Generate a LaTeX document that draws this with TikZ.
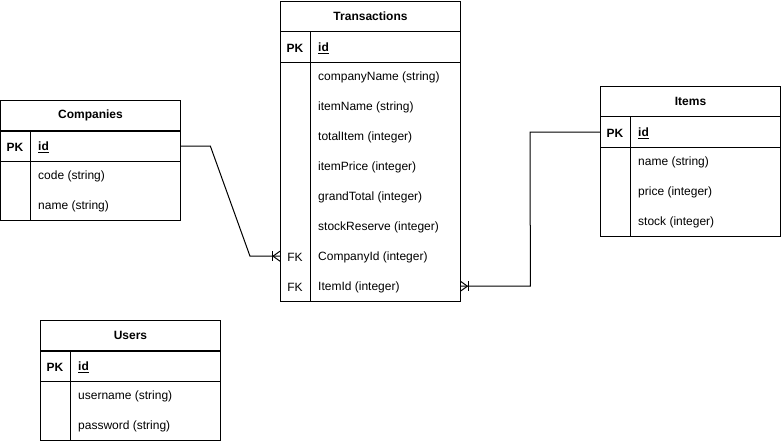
\documentclass[tikz,border=0pt]{standalone}
\usepackage{fontspec}
\setmainfont{Liberation Sans}
\usepackage{tikz}
\usetikzlibrary{positioning}

\newcommand{\erfont}{\fontsize{12}{14}\selectfont}

\tikzset{
  tblhead/.style={draw, line width=1pt, minimum width=180pt, minimum height=30pt,
    anchor=north west, inner sep=0pt, font=\erfont\bfseries},
  tblrow/.style={minimum width=180pt, minimum height=30pt, anchor=north west, inner sep=0pt},
  keytxt/.style={inner sep=0pt, yshift=-1.5pt, font=\erfont\bfseries},
  fktxt/.style={inner sep=0pt, yshift=-1.5pt, font=\erfont},
  fldtxt/.style={anchor=west, inner sep=0pt, yshift=-1.5pt, font=\erfont},
  frame/.style={line width=1pt},
}

\begin{document}
\begin{tikzpicture}[x=1pt, y=-1pt]
\useasboundingbox (0,0) rectangle (781,441);

% Transactions
\node[tblhead] (trans) at (280,1) {Transactions};
\node[tblrow] (transpk) at (trans.south west) {};
\node[keytxt] (transpkkey) at ([xshift=15pt]transpk.west) {PK};
\node[fldtxt, font=\erfont\bfseries] (transid) at ([xshift=38pt]transpk.west) {\underline{id}};
\foreach \nm/\txt [count=\i] in {cname/companyName (string), iname/itemName (string),
    total/totalItem (integer), price/itemPrice (integer), grand/grandTotal (integer),
    stock/stockReserve (integer), coid/CompanyId (integer), item/ItemId (integer)} {
  \node[tblrow] (trans\nm) at (280,{31+30*\i}) {};
  \node[fldtxt] (trans\nm txt) at ([xshift=38pt]trans\nm.west) {\txt};
}
\node[fktxt] (transfka) at ([xshift=15pt]transcoid.west) {FK};
\node[fktxt] (transfkb) at ([xshift=15pt]transitem.west) {FK};
\draw[frame] (transpk.north west) rectangle (transitem.south east);
\draw[frame] (transpk.south west) -- (transpk.south east);
\draw[frame] ([xshift=30pt]transpk.north west) -- ([xshift=30pt]transitem.south west);

% Companies
\node[tblhead] (comp) at (0,100) {Companies};
\node[tblrow] (comppk) at (comp.south west) {};
\node[keytxt] (comppkkey) at ([xshift=15pt]comppk.west) {PK};
\node[fldtxt, font=\erfont\bfseries] (compid) at ([xshift=38pt]comppk.west) {\underline{id}};
\foreach \nm/\txt [count=\i] in {code/code (string), name/name (string)} {
  \node[tblrow] (comp\nm) at (0,{130+30*\i}) {};
  \node[fldtxt] (comp\nm txt) at ([xshift=38pt]comp\nm.west) {\txt};
}
\draw[frame] (comppk.north west) rectangle (compname.south east);
\draw[frame] (comppk.south west) -- (comppk.south east);
\draw[frame] ([xshift=30pt]comppk.north west) -- ([xshift=30pt]compname.south west);

% Items
\node[tblhead] (items) at (600,86) {Items};
\node[tblrow] (itemspk) at (items.south west) {};
\node[keytxt] (itemspkkey) at ([xshift=15pt]itemspk.west) {PK};
\node[fldtxt, font=\erfont\bfseries] (itemsid) at ([xshift=38pt]itemspk.west) {\underline{id}};
\foreach \nm/\txt [count=\i] in {name/name (string), price/price (integer), stock/stock (integer)} {
  \node[tblrow] (items\nm) at (600,{116+30*\i}) {};
  \node[fldtxt] (items\nm txt) at ([xshift=38pt]items\nm.west) {\txt};
}
\draw[frame] (itemspk.north west) rectangle (itemsstock.south east);
\draw[frame] (itemspk.south west) -- (itemspk.south east);
\draw[frame] ([xshift=30pt]itemspk.north west) -- ([xshift=30pt]itemsstock.south west);

% Users
\node[tblhead] (users) at (40,320) {Users};
\node[tblrow] (userspk) at (users.south west) {};
\node[keytxt] (userspkkey) at ([xshift=15pt]userspk.west) {PK};
\node[fldtxt, font=\erfont\bfseries] (usersid) at ([xshift=38pt]userspk.west) {\underline{id}};
\foreach \nm/\txt [count=\i] in {uname/username (string), pass/password (string)} {
  \node[tblrow] (users\nm) at (40,{350+30*\i}) {};
  \node[fldtxt] (users\nm txt) at ([xshift=38pt]users\nm.west) {\txt};
}
\draw[frame] (userspk.north west) rectangle (userspass.south east);
\draw[frame] (userspk.south west) -- (userspk.south east);
\draw[frame] ([xshift=30pt]userspk.north west) -- ([xshift=30pt]userspass.south west);

% relations
\draw[frame] (comppk.east) -- ++(30,0) -- ([xshift=-30pt]transcoid.west) -- (transcoid.west);
\draw[frame] ([xshift=-7pt]transcoid.west) -- ([yshift=5pt]transcoid.west)
  ([xshift=-7pt]transcoid.west) -- ([yshift=-5pt]transcoid.west);
\draw[frame] ([xshift=-8pt,yshift=5pt]transcoid.west) -- ([xshift=-8pt,yshift=-5pt]transcoid.west);

\draw[frame] (itemspk.west) -- ++(-70,0) -- ([xshift=70pt]transitem.east) -- (transitem.east);
\draw[frame] ([xshift=7pt]transitem.east) -- ([yshift=5pt]transitem.east)
  ([xshift=7pt]transitem.east) -- ([yshift=-5pt]transitem.east);
\draw[frame] ([xshift=8pt,yshift=5pt]transitem.east) -- ([xshift=8pt,yshift=-5pt]transitem.east);

\end{tikzpicture}
\end{document}
